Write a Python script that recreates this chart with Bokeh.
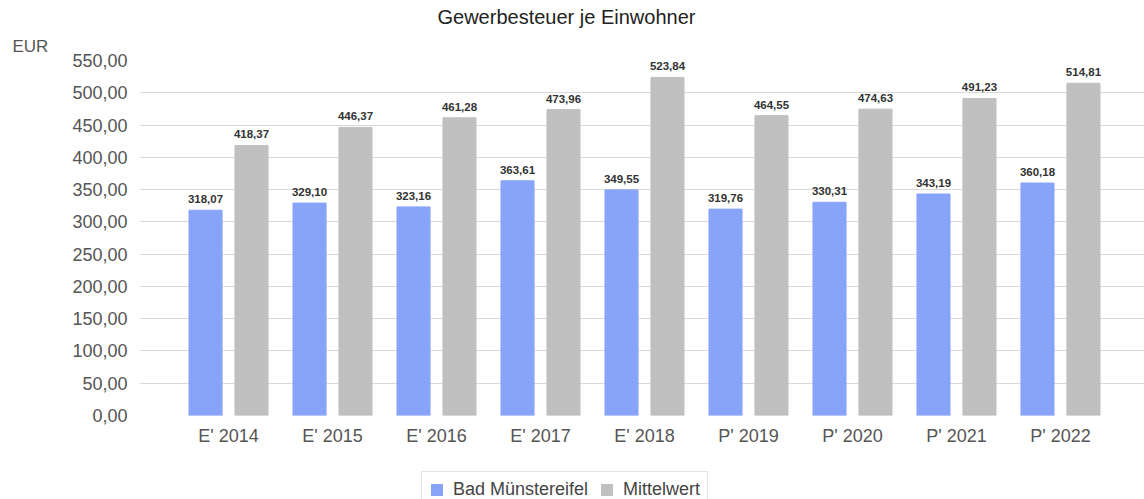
from bokeh.plotting import figure
from bokeh.layouts import column
from bokeh.models import ColumnDataSource, FixedTicker, Legend, LegendItem, LabelSet, Range1d, Title
from bokeh.core.properties import value
from bokeh.embed import file_html
from bokeh.resources import INLINE

categories = ["E' 2014", "E' 2015", "E' 2016", "E' 2017", "E' 2018", "P' 2019", "P' 2020", "P' 2021", "P' 2022"]
bad_muenstereifel = [318.07, 329.10, 323.16, 363.61, 349.55, 319.76, 330.31, 343.19, 360.18]
mittelwert = [418.37, 446.37, 461.28, 473.96, 523.84, 464.55, 474.63, 491.23, 514.81]
y_ticks = [0, 50, 100, 150, 200, 250, 300, 350, 400, 450, 500, 550]
series_names = ["Bad Münstereifel", "Mittelwert"]

def de(v):
    return f"{v:.2f}".replace(".", ",")

FONT = "Liberation Sans"
BLUE = "#88a4f8"
GRAY = "#c0c0c0"

xs = list(range(len(categories)))
off = 0.221
bw = 0.318

src_a = ColumnDataSource(dict(x=[i - off for i in xs], top=bad_muenstereifel,
                              lab=[de(v) for v in bad_muenstereifel]))
src_b = ColumnDataSource(dict(x=[i + off for i in xs], top=mittelwert,
                              lab=[de(v) for v in mittelwert]))

p = figure(width=1144, height=468, output_backend="svg", toolbar_location=None,
           x_range=Range1d(-0.856, 8.808), y_range=Range1d(0, 550),
           min_border_left=139, min_border_right=0, min_border_top=0, min_border_bottom=53,
           title="Gewerbesteuer je Einwohner")
p.outline_line_color = None
p.background_fill_color = "white"
p.border_fill_color = "white"

p.title.align = "left"
p.title.offset = 298
p.title.text_font = FONT
p.title.text_font_size = "20px"
p.title.text_font_style = "normal"
p.title.text_color = "#222222"
p.title.standoff = 6

eur = Title(text="EUR", align="left", offset=-127, text_font=FONT, text_font_size="17px",
            text_font_style="normal", text_color="#555555", standoff=9)
p.add_layout(eur, "above")

ra = p.vbar(x="x", top="top", width=bw, source=src_a, fill_color=BLUE, line_color=BLUE)
rb = p.vbar(x="x", top="top", width=bw, source=src_b, fill_color=GRAY, line_color=GRAY)

for s in (src_a, src_b):
    ls = LabelSet(x="x", y="top", text="lab", source=s, y_offset=7, text_align="center",
                  text_baseline="alphabetic", text_font=value(FONT), text_font_size=value("11.5px"),
                  text_font_style="bold", text_color="#333333")
    p.add_layout(ls)

p.xgrid.grid_line_color = None
p.ygrid.grid_line_color = "#d9d9d9"
p.ygrid.grid_line_width = 1
p.yaxis.ticker = FixedTicker(ticks=y_ticks)
p.yaxis.major_label_overrides = {t: de(t) for t in y_ticks}
p.xaxis.ticker = FixedTicker(ticks=xs)
p.xaxis.major_label_overrides = {i: c for i, c in enumerate(categories)}

for ax in (p.xaxis[0], p.yaxis[0]):
    ax.axis_line_color = None
    ax.major_tick_line_color = None
    ax.minor_tick_line_color = None
    ax.major_tick_out = 0
    ax.major_tick_in = 0
    ax.minor_tick_out = 0
    ax.major_label_text_font = FONT
    ax.major_label_text_font_size = "18px"
    ax.major_label_text_color = "#555555"
p.yaxis.major_label_standoff = 12
p.xaxis.major_label_standoff = 10

# legend strip below the chart (same series, zero-width and outside its visible range)
lg = figure(width=1144, height=31, output_backend="svg", toolbar_location=None,
            x_range=Range1d(-0.856, 8.808), y_range=Range1d(-2, -1),
            min_border_left=139, min_border_right=0, min_border_top=0, min_border_bottom=0)
lg.outline_line_color = None
lg.axis.visible = False
lg.grid.visible = False
da = lg.vbar(x="x", top="top", width=0, source=src_a, fill_color=BLUE, line_color=None)
db = lg.vbar(x="x", top="top", width=0, source=src_b, fill_color=GRAY, line_color=None)
legend = Legend(items=[LegendItem(label=series_names[0], renderers=[da]),
                       LegendItem(label=series_names[1], renderers=[db])],
                orientation="horizontal", location=(282, -9),
                label_text_font=FONT, label_text_font_size="18px", label_text_color="#444444",
                glyph_width=15, glyph_height=15, label_standoff=9, spacing=11,
                padding=7, margin=0, border_line_color="#cccccc", border_line_width=1,
                label_height=15)
lg.add_layout(legend, "center")

layout = column(p, lg, spacing=0)
open("out.html", "w").write(file_html(layout, INLINE))
